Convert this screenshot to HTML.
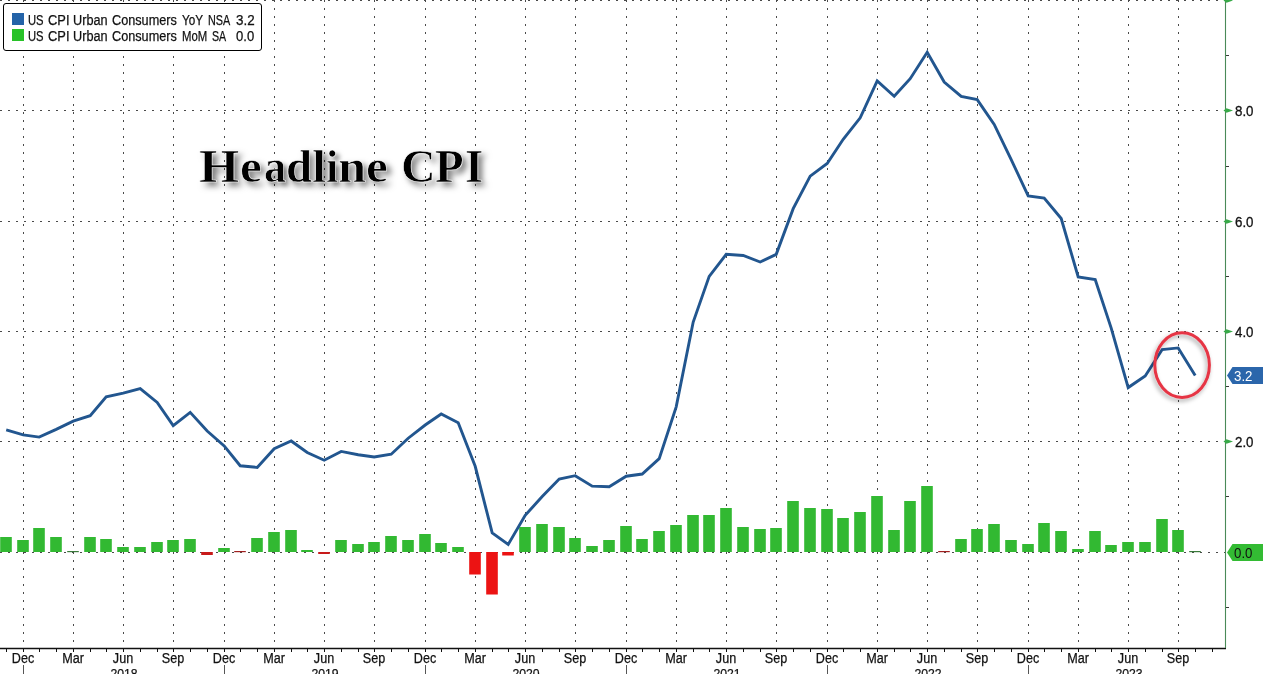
<!DOCTYPE html>
<html><head><meta charset="utf-8">
<style>
html,body{margin:0;padding:0;background:#fff;}
body{width:1263px;height:674px;overflow:hidden;position:relative;font-family:"Liberation Sans",sans-serif;}
svg{position:absolute;left:0;top:0;}
.yl{position:absolute;left:1234.5px;font-size:14px;line-height:17px;color:#111;transform:scaleX(0.95);transform-origin:0 0;-webkit-text-stroke:0.3px #111;}
.xl{position:absolute;top:650px;width:40px;text-align:center;font-size:14px;line-height:17px;color:#111;transform:scaleX(0.9);-webkit-text-stroke:0.25px #111;}
.yr{position:absolute;top:665px;width:40px;text-align:center;font-size:13px;line-height:17px;color:#111;transform:scaleX(0.94);-webkit-text-stroke:0.25px #111;}
.tg{position:absolute;left:1234.3px;font-size:14px;line-height:17px;transform:scaleX(0.95);transform-origin:0 0;}
#legend{position:absolute;left:3px;top:3px;width:257px;height:45.5px;border:1.4px solid #000;border-radius:3px;background:#fff;}
.sw{position:absolute;left:8px;width:12px;height:12px;}
.lw{position:absolute;font-size:14px;line-height:14px;color:#111;white-space:pre;transform-origin:0 0;-webkit-text-stroke:0.25px #111;}
.tt{position:absolute;top:143px;font-family:"Liberation Serif",serif;font-weight:bold;font-size:47.4px;line-height:47.4px;color:#000;text-shadow:4px 4px 6px rgba(0,0,0,0.55);-webkit-text-stroke:0.6px #fff;white-space:nowrap;transform-origin:0 0;}
</style></head><body>
<svg width="1263" height="674" viewBox="0 0 1263 674">
<defs><filter id="sh" x="-30%" y="-30%" width="160%" height="160%"><feDropShadow dx="-1.5" dy="2.5" stdDeviation="2" flood-color="#000" flood-opacity="0.35"/></filter></defs>
<line x1="0" y1="0.5" x2="1225" y2="0.5" stroke="#4a4a4a" stroke-width="1" stroke-dasharray="2 6"/>
<line x1="0" y1="110.5" x2="1225" y2="110.5" stroke="#4a4a4a" stroke-width="1" stroke-dasharray="2 6"/>
<line x1="0" y1="221.5" x2="1225" y2="221.5" stroke="#4a4a4a" stroke-width="1" stroke-dasharray="2 6"/>
<line x1="0" y1="331.5" x2="1225" y2="331.5" stroke="#4a4a4a" stroke-width="1" stroke-dasharray="2 6"/>
<line x1="0" y1="441.5" x2="1225" y2="441.5" stroke="#4a4a4a" stroke-width="1" stroke-dasharray="2 6"/>
<line x1="0" y1="552.5" x2="1225" y2="552.5" stroke="#4a4a4a" stroke-width="1" stroke-dasharray="2 6"/>
<line x1="23.5" y1="0" x2="23.5" y2="648" stroke="#4a4a4a" stroke-width="1" stroke-dasharray="2 6"/>
<line x1="73.5" y1="0" x2="73.5" y2="648" stroke="#4a4a4a" stroke-width="1" stroke-dasharray="2 6"/>
<line x1="123.5" y1="0" x2="123.5" y2="648" stroke="#4a4a4a" stroke-width="1" stroke-dasharray="2 6"/>
<line x1="173.5" y1="0" x2="173.5" y2="648" stroke="#4a4a4a" stroke-width="1" stroke-dasharray="2 6"/>
<line x1="224.5" y1="0" x2="224.5" y2="648" stroke="#4a4a4a" stroke-width="1" stroke-dasharray="2 6"/>
<line x1="274.5" y1="0" x2="274.5" y2="648" stroke="#4a4a4a" stroke-width="1" stroke-dasharray="2 6"/>
<line x1="324.5" y1="0" x2="324.5" y2="648" stroke="#4a4a4a" stroke-width="1" stroke-dasharray="2 6"/>
<line x1="374.5" y1="0" x2="374.5" y2="648" stroke="#4a4a4a" stroke-width="1" stroke-dasharray="2 6"/>
<line x1="425.5" y1="0" x2="425.5" y2="648" stroke="#4a4a4a" stroke-width="1" stroke-dasharray="2 6"/>
<line x1="475.5" y1="0" x2="475.5" y2="648" stroke="#4a4a4a" stroke-width="1" stroke-dasharray="2 6"/>
<line x1="525.5" y1="0" x2="525.5" y2="648" stroke="#4a4a4a" stroke-width="1" stroke-dasharray="2 6"/>
<line x1="575.5" y1="0" x2="575.5" y2="648" stroke="#4a4a4a" stroke-width="1" stroke-dasharray="2 6"/>
<line x1="626.5" y1="0" x2="626.5" y2="648" stroke="#4a4a4a" stroke-width="1" stroke-dasharray="2 6"/>
<line x1="676.5" y1="0" x2="676.5" y2="648" stroke="#4a4a4a" stroke-width="1" stroke-dasharray="2 6"/>
<line x1="726.5" y1="0" x2="726.5" y2="648" stroke="#4a4a4a" stroke-width="1" stroke-dasharray="2 6"/>
<line x1="776.5" y1="0" x2="776.5" y2="648" stroke="#4a4a4a" stroke-width="1" stroke-dasharray="2 6"/>
<line x1="827.5" y1="0" x2="827.5" y2="648" stroke="#4a4a4a" stroke-width="1" stroke-dasharray="2 6"/>
<line x1="877.5" y1="0" x2="877.5" y2="648" stroke="#4a4a4a" stroke-width="1" stroke-dasharray="2 6"/>
<line x1="927.5" y1="0" x2="927.5" y2="648" stroke="#4a4a4a" stroke-width="1" stroke-dasharray="2 6"/>
<line x1="977.5" y1="0" x2="977.5" y2="648" stroke="#4a4a4a" stroke-width="1" stroke-dasharray="2 6"/>
<line x1="1028.5" y1="0" x2="1028.5" y2="648" stroke="#4a4a4a" stroke-width="1" stroke-dasharray="2 6"/>
<line x1="1078.5" y1="0" x2="1078.5" y2="648" stroke="#4a4a4a" stroke-width="1" stroke-dasharray="2 6"/>
<line x1="1128.5" y1="0" x2="1128.5" y2="648" stroke="#4a4a4a" stroke-width="1" stroke-dasharray="2 6"/>
<line x1="1178.5" y1="0" x2="1178.5" y2="648" stroke="#4a4a4a" stroke-width="1" stroke-dasharray="2 6"/>
<rect x="0.20" y="537.00" width="11.6" height="15.00" fill="#32b932"/>
<rect x="17.20" y="540.00" width="11.6" height="12.00" fill="#32b932"/>
<rect x="33.20" y="528.00" width="11.6" height="24.00" fill="#32b932"/>
<rect x="50.20" y="537.00" width="11.6" height="15.00" fill="#32b932"/>
<rect x="67.20" y="551" width="11.6" height="1.2" fill="#3a7a3a"/>
<rect x="84.20" y="537.00" width="11.6" height="15.00" fill="#32b932"/>
<rect x="100.20" y="539.00" width="11.6" height="13.00" fill="#32b932"/>
<rect x="117.20" y="547.00" width="11.6" height="5.00" fill="#32b932"/>
<rect x="134.20" y="547.00" width="11.6" height="5.00" fill="#32b932"/>
<rect x="151.20" y="542.00" width="11.6" height="10.00" fill="#32b932"/>
<rect x="167.20" y="540.00" width="11.6" height="12.00" fill="#32b932"/>
<rect x="184.20" y="539.00" width="11.6" height="13.00" fill="#32b932"/>
<rect x="201.20" y="552" width="11.6" height="3.00" fill="#c81a1a"/>
<rect x="218.20" y="548.00" width="11.6" height="4.00" fill="#32b932"/>
<rect x="234.20" y="551" width="11.6" height="1.2" fill="#a02020"/>
<rect x="251.20" y="538.00" width="11.6" height="14.00" fill="#32b932"/>
<rect x="268.20" y="532.00" width="11.6" height="20.00" fill="#32b932"/>
<rect x="285.20" y="530.00" width="11.6" height="22.00" fill="#32b932"/>
<rect x="301.20" y="550.00" width="11.6" height="2.00" fill="#32b932"/>
<rect x="318.20" y="552" width="11.6" height="2.00" fill="#c81a1a"/>
<rect x="335.20" y="540.00" width="11.6" height="12.00" fill="#32b932"/>
<rect x="352.20" y="544.00" width="11.6" height="8.00" fill="#32b932"/>
<rect x="368.20" y="542.00" width="11.6" height="10.00" fill="#32b932"/>
<rect x="385.20" y="536.00" width="11.6" height="16.00" fill="#32b932"/>
<rect x="402.20" y="540.00" width="11.6" height="12.00" fill="#32b932"/>
<rect x="419.20" y="534.00" width="11.6" height="18.00" fill="#32b932"/>
<rect x="435.20" y="543.00" width="11.6" height="9.00" fill="#32b932"/>
<rect x="452.20" y="547.00" width="11.6" height="5.00" fill="#32b932"/>
<rect x="469.20" y="552" width="11.6" height="22.50" fill="#ec1313"/>
<rect x="486.20" y="552" width="11.6" height="42.50" fill="#ec1313"/>
<rect x="502.20" y="552" width="11.6" height="3.50" fill="#ec1313"/>
<rect x="519.20" y="527.00" width="11.6" height="25.00" fill="#32b932"/>
<rect x="536.20" y="524.00" width="11.6" height="28.00" fill="#32b932"/>
<rect x="553.20" y="527.00" width="11.6" height="25.00" fill="#32b932"/>
<rect x="569.20" y="538.00" width="11.6" height="14.00" fill="#32b932"/>
<rect x="586.20" y="546.00" width="11.6" height="6.00" fill="#32b932"/>
<rect x="603.20" y="540.00" width="11.6" height="12.00" fill="#32b932"/>
<rect x="620.20" y="526.00" width="11.6" height="26.00" fill="#32b932"/>
<rect x="636.20" y="539.00" width="11.6" height="13.00" fill="#32b932"/>
<rect x="653.20" y="531.00" width="11.6" height="21.00" fill="#32b932"/>
<rect x="670.20" y="525.00" width="11.6" height="27.00" fill="#32b932"/>
<rect x="687.20" y="515.00" width="11.6" height="37.00" fill="#32b932"/>
<rect x="703.20" y="515.00" width="11.6" height="37.00" fill="#32b932"/>
<rect x="720.20" y="508.00" width="11.6" height="44.00" fill="#32b932"/>
<rect x="737.20" y="527.00" width="11.6" height="25.00" fill="#32b932"/>
<rect x="754.20" y="529.00" width="11.6" height="23.00" fill="#32b932"/>
<rect x="770.20" y="528.00" width="11.6" height="24.00" fill="#32b932"/>
<rect x="787.20" y="501.00" width="11.6" height="51.00" fill="#32b932"/>
<rect x="804.20" y="508.00" width="11.6" height="44.00" fill="#32b932"/>
<rect x="821.20" y="509.00" width="11.6" height="43.00" fill="#32b932"/>
<rect x="837.20" y="518.00" width="11.6" height="34.00" fill="#32b932"/>
<rect x="854.20" y="512.00" width="11.6" height="40.00" fill="#32b932"/>
<rect x="871.20" y="496.00" width="11.6" height="56.00" fill="#32b932"/>
<rect x="888.20" y="530.00" width="11.6" height="22.00" fill="#32b932"/>
<rect x="904.20" y="501.00" width="11.6" height="51.00" fill="#32b932"/>
<rect x="921.20" y="486.00" width="11.6" height="66.00" fill="#32b932"/>
<rect x="938.20" y="551" width="11.6" height="1.2" fill="#a02020"/>
<rect x="955.20" y="539.00" width="11.6" height="13.00" fill="#32b932"/>
<rect x="971.20" y="529.00" width="11.6" height="23.00" fill="#32b932"/>
<rect x="988.20" y="524.00" width="11.6" height="28.00" fill="#32b932"/>
<rect x="1005.20" y="540.00" width="11.6" height="12.00" fill="#32b932"/>
<rect x="1022.20" y="544.00" width="11.6" height="8.00" fill="#32b932"/>
<rect x="1038.20" y="523.00" width="11.6" height="29.00" fill="#32b932"/>
<rect x="1055.20" y="531.00" width="11.6" height="21.00" fill="#32b932"/>
<rect x="1072.20" y="549.00" width="11.6" height="3.00" fill="#32b932"/>
<rect x="1089.20" y="531.00" width="11.6" height="21.00" fill="#32b932"/>
<rect x="1105.20" y="545.00" width="11.6" height="7.00" fill="#32b932"/>
<rect x="1122.20" y="542.00" width="11.6" height="10.00" fill="#32b932"/>
<rect x="1139.20" y="542.00" width="11.6" height="10.00" fill="#32b932"/>
<rect x="1156.20" y="519.00" width="11.6" height="33.00" fill="#32b932"/>
<rect x="1172.20" y="530.00" width="11.6" height="22.00" fill="#32b932"/>
<rect x="1189.20" y="551" width="11.6" height="1.2" fill="#3a7a3a"/>
<polyline points="6.20,429.97 23.20,434.92 39.20,437.13 56.20,429.42 73.20,421.16 90.20,415.65 106.20,396.93 123.20,393.08 140.20,388.67 157.20,402.44 173.20,425.56 190.20,412.35 207.20,431.07 224.20,445.94 240.20,465.76 257.20,467.41 274.20,448.69 291.20,440.98 307.20,452.54 324.20,460.25 341.20,451.44 358.20,454.75 374.20,456.95 391.20,454.19 408.20,438.23 425.20,425.01 441.20,414.00 458.20,422.81 475.20,466.31 492.20,532.93 508.20,544.49 525.20,515.31 542.20,496.59 559.20,478.97 575.20,475.67 592.20,486.13 609.20,486.68 626.20,476.22 642.20,474.02 659.20,458.60 676.20,406.84 693.20,322.05 709.20,276.35 726.20,254.33 743.20,255.43 760.20,262.04 776.20,254.33 793.20,208.63 810.20,176.14 827.20,163.48 843.20,139.25 860.20,117.78 877.20,80.89 894.20,96.30 910.20,78.69 927.20,52.26 944.20,81.99 961.20,96.30 977.20,99.61 994.20,124.38 1011.20,159.62 1028.20,195.96 1044.20,198.17 1061.20,218.54 1078.20,276.90 1095.20,279.65 1111.20,328.11 1128.20,387.57 1145.20,376.01 1162.20,349.58 1178.20,347.93 1195.20,375.46" fill="none" stroke="#22568f" stroke-width="2.9" stroke-linejoin="miter" stroke-miterlimit="3"/>
<line x1="0" y1="648.5" x2="1226" y2="648.5" stroke="#111" stroke-width="1.3"/>
<line x1="6.5" y1="648" x2="6.5" y2="652" stroke="#111" stroke-width="1"/>
<line x1="23.5" y1="648" x2="23.5" y2="652" stroke="#111" stroke-width="1"/>
<line x1="39.5" y1="648" x2="39.5" y2="652" stroke="#111" stroke-width="1"/>
<line x1="56.5" y1="648" x2="56.5" y2="652" stroke="#111" stroke-width="1"/>
<line x1="73.5" y1="648" x2="73.5" y2="652" stroke="#111" stroke-width="1"/>
<line x1="90.5" y1="648" x2="90.5" y2="652" stroke="#111" stroke-width="1"/>
<line x1="106.5" y1="648" x2="106.5" y2="652" stroke="#111" stroke-width="1"/>
<line x1="123.5" y1="648" x2="123.5" y2="652" stroke="#111" stroke-width="1"/>
<line x1="140.5" y1="648" x2="140.5" y2="652" stroke="#111" stroke-width="1"/>
<line x1="157.5" y1="648" x2="157.5" y2="652" stroke="#111" stroke-width="1"/>
<line x1="173.5" y1="648" x2="173.5" y2="652" stroke="#111" stroke-width="1"/>
<line x1="190.5" y1="648" x2="190.5" y2="652" stroke="#111" stroke-width="1"/>
<line x1="207.5" y1="648" x2="207.5" y2="652" stroke="#111" stroke-width="1"/>
<line x1="224.5" y1="648" x2="224.5" y2="652" stroke="#111" stroke-width="1"/>
<line x1="240.5" y1="648" x2="240.5" y2="652" stroke="#111" stroke-width="1"/>
<line x1="257.5" y1="648" x2="257.5" y2="652" stroke="#111" stroke-width="1"/>
<line x1="274.5" y1="648" x2="274.5" y2="652" stroke="#111" stroke-width="1"/>
<line x1="291.5" y1="648" x2="291.5" y2="652" stroke="#111" stroke-width="1"/>
<line x1="307.5" y1="648" x2="307.5" y2="652" stroke="#111" stroke-width="1"/>
<line x1="324.5" y1="648" x2="324.5" y2="652" stroke="#111" stroke-width="1"/>
<line x1="341.5" y1="648" x2="341.5" y2="652" stroke="#111" stroke-width="1"/>
<line x1="358.5" y1="648" x2="358.5" y2="652" stroke="#111" stroke-width="1"/>
<line x1="374.5" y1="648" x2="374.5" y2="652" stroke="#111" stroke-width="1"/>
<line x1="391.5" y1="648" x2="391.5" y2="652" stroke="#111" stroke-width="1"/>
<line x1="408.5" y1="648" x2="408.5" y2="652" stroke="#111" stroke-width="1"/>
<line x1="425.5" y1="648" x2="425.5" y2="652" stroke="#111" stroke-width="1"/>
<line x1="441.5" y1="648" x2="441.5" y2="652" stroke="#111" stroke-width="1"/>
<line x1="458.5" y1="648" x2="458.5" y2="652" stroke="#111" stroke-width="1"/>
<line x1="475.5" y1="648" x2="475.5" y2="652" stroke="#111" stroke-width="1"/>
<line x1="492.5" y1="648" x2="492.5" y2="652" stroke="#111" stroke-width="1"/>
<line x1="508.5" y1="648" x2="508.5" y2="652" stroke="#111" stroke-width="1"/>
<line x1="525.5" y1="648" x2="525.5" y2="652" stroke="#111" stroke-width="1"/>
<line x1="542.5" y1="648" x2="542.5" y2="652" stroke="#111" stroke-width="1"/>
<line x1="559.5" y1="648" x2="559.5" y2="652" stroke="#111" stroke-width="1"/>
<line x1="575.5" y1="648" x2="575.5" y2="652" stroke="#111" stroke-width="1"/>
<line x1="592.5" y1="648" x2="592.5" y2="652" stroke="#111" stroke-width="1"/>
<line x1="609.5" y1="648" x2="609.5" y2="652" stroke="#111" stroke-width="1"/>
<line x1="626.5" y1="648" x2="626.5" y2="652" stroke="#111" stroke-width="1"/>
<line x1="642.5" y1="648" x2="642.5" y2="652" stroke="#111" stroke-width="1"/>
<line x1="659.5" y1="648" x2="659.5" y2="652" stroke="#111" stroke-width="1"/>
<line x1="676.5" y1="648" x2="676.5" y2="652" stroke="#111" stroke-width="1"/>
<line x1="693.5" y1="648" x2="693.5" y2="652" stroke="#111" stroke-width="1"/>
<line x1="709.5" y1="648" x2="709.5" y2="652" stroke="#111" stroke-width="1"/>
<line x1="726.5" y1="648" x2="726.5" y2="652" stroke="#111" stroke-width="1"/>
<line x1="743.5" y1="648" x2="743.5" y2="652" stroke="#111" stroke-width="1"/>
<line x1="760.5" y1="648" x2="760.5" y2="652" stroke="#111" stroke-width="1"/>
<line x1="776.5" y1="648" x2="776.5" y2="652" stroke="#111" stroke-width="1"/>
<line x1="793.5" y1="648" x2="793.5" y2="652" stroke="#111" stroke-width="1"/>
<line x1="810.5" y1="648" x2="810.5" y2="652" stroke="#111" stroke-width="1"/>
<line x1="827.5" y1="648" x2="827.5" y2="652" stroke="#111" stroke-width="1"/>
<line x1="843.5" y1="648" x2="843.5" y2="652" stroke="#111" stroke-width="1"/>
<line x1="860.5" y1="648" x2="860.5" y2="652" stroke="#111" stroke-width="1"/>
<line x1="877.5" y1="648" x2="877.5" y2="652" stroke="#111" stroke-width="1"/>
<line x1="894.5" y1="648" x2="894.5" y2="652" stroke="#111" stroke-width="1"/>
<line x1="910.5" y1="648" x2="910.5" y2="652" stroke="#111" stroke-width="1"/>
<line x1="927.5" y1="648" x2="927.5" y2="652" stroke="#111" stroke-width="1"/>
<line x1="944.5" y1="648" x2="944.5" y2="652" stroke="#111" stroke-width="1"/>
<line x1="961.5" y1="648" x2="961.5" y2="652" stroke="#111" stroke-width="1"/>
<line x1="977.5" y1="648" x2="977.5" y2="652" stroke="#111" stroke-width="1"/>
<line x1="994.5" y1="648" x2="994.5" y2="652" stroke="#111" stroke-width="1"/>
<line x1="1011.5" y1="648" x2="1011.5" y2="652" stroke="#111" stroke-width="1"/>
<line x1="1028.5" y1="648" x2="1028.5" y2="652" stroke="#111" stroke-width="1"/>
<line x1="1044.5" y1="648" x2="1044.5" y2="652" stroke="#111" stroke-width="1"/>
<line x1="1061.5" y1="648" x2="1061.5" y2="652" stroke="#111" stroke-width="1"/>
<line x1="1078.5" y1="648" x2="1078.5" y2="652" stroke="#111" stroke-width="1"/>
<line x1="1095.5" y1="648" x2="1095.5" y2="652" stroke="#111" stroke-width="1"/>
<line x1="1111.5" y1="648" x2="1111.5" y2="652" stroke="#111" stroke-width="1"/>
<line x1="1128.5" y1="648" x2="1128.5" y2="652" stroke="#111" stroke-width="1"/>
<line x1="1145.5" y1="648" x2="1145.5" y2="652" stroke="#111" stroke-width="1"/>
<line x1="1162.5" y1="648" x2="1162.5" y2="652" stroke="#111" stroke-width="1"/>
<line x1="1178.5" y1="648" x2="1178.5" y2="652" stroke="#111" stroke-width="1"/>
<line x1="1195.5" y1="648" x2="1195.5" y2="652" stroke="#111" stroke-width="1"/>
<line x1="1212.5" y1="648" x2="1212.5" y2="652" stroke="#111" stroke-width="1"/>
<line x1="23.5" y1="665" x2="23.5" y2="674" stroke="#555" stroke-width="1"/>
<line x1="224.5" y1="665" x2="224.5" y2="674" stroke="#555" stroke-width="1"/>
<line x1="425.5" y1="665" x2="425.5" y2="674" stroke="#555" stroke-width="1"/>
<line x1="626.5" y1="665" x2="626.5" y2="674" stroke="#555" stroke-width="1"/>
<line x1="827.5" y1="665" x2="827.5" y2="674" stroke="#555" stroke-width="1"/>
<line x1="1028.5" y1="665" x2="1028.5" y2="674" stroke="#555" stroke-width="1"/>
<line x1="1225.5" y1="0" x2="1225.5" y2="648" stroke="#4a8a58" stroke-width="1.1"/>
<line x1="1226" y1="55.5" x2="1229" y2="55.5" stroke="#3a3a3a" stroke-width="1"/>
<line x1="1226" y1="166.5" x2="1229" y2="166.5" stroke="#3a3a3a" stroke-width="1"/>
<line x1="1226" y1="276.5" x2="1229" y2="276.5" stroke="#3a3a3a" stroke-width="1"/>
<line x1="1226" y1="386.5" x2="1229" y2="386.5" stroke="#3a3a3a" stroke-width="1"/>
<line x1="1226" y1="496.5" x2="1229" y2="496.5" stroke="#3a3a3a" stroke-width="1"/>
<line x1="1226" y1="607.5" x2="1229" y2="607.5" stroke="#3a3a3a" stroke-width="1"/>
<polygon points="1223.5,0.5 1226.5,-1.8 1233,0.5 1226.5,2.8" fill="#38aa48"/>
<polygon points="1223.5,110.5 1226.5,108.2 1233,110.5 1226.5,112.8" fill="#38aa48"/>
<polygon points="1223.5,221.5 1226.5,219.2 1233,221.5 1226.5,223.8" fill="#38aa48"/>
<polygon points="1223.5,331.5 1226.5,329.2 1233,331.5 1226.5,333.8" fill="#38aa48"/>
<polygon points="1223.5,441.5 1226.5,439.2 1233,441.5 1226.5,443.8" fill="#38aa48"/>
<polygon points="1227,375.5 1232.5,367.0 1263,367.0 1263,384.0 1232.5,384.0" fill="#2b66ab"/>
<polygon points="1227,552.5 1232.5,544.0 1263,544.0 1263,561.0 1232.5,561.0" fill="#33bb33"/>
<ellipse cx="1182.1" cy="365.1" rx="27.3" ry="32.3" fill="none" stroke="#e63644" stroke-width="3.0" filter="url(#sh)"/>
</svg>
<div class="yl" style="top:103.1px">8.0</div>
<div class="yl" style="top:213.5px">6.0</div>
<div class="yl" style="top:323.9px">4.0</div>
<div class="yl" style="top:434.3px">2.0</div>
<div class="xl" style="left:2.5px">Dec</div>
<div class="xl" style="left:52.5px">Mar</div>
<div class="xl" style="left:102.5px">Jun</div>
<div class="xl" style="left:152.5px">Sep</div>
<div class="xl" style="left:203.5px">Dec</div>
<div class="xl" style="left:253.5px">Mar</div>
<div class="xl" style="left:303.5px">Jun</div>
<div class="xl" style="left:353.5px">Sep</div>
<div class="xl" style="left:404.5px">Dec</div>
<div class="xl" style="left:454.5px">Mar</div>
<div class="xl" style="left:504.5px">Jun</div>
<div class="xl" style="left:554.5px">Sep</div>
<div class="xl" style="left:605.5px">Dec</div>
<div class="xl" style="left:655.5px">Mar</div>
<div class="xl" style="left:705.5px">Jun</div>
<div class="xl" style="left:755.5px">Sep</div>
<div class="xl" style="left:806.5px">Dec</div>
<div class="xl" style="left:856.5px">Mar</div>
<div class="xl" style="left:906.5px">Jun</div>
<div class="xl" style="left:956.5px">Sep</div>
<div class="xl" style="left:1007.5px">Dec</div>
<div class="xl" style="left:1057.5px">Mar</div>
<div class="xl" style="left:1107.5px">Jun</div>
<div class="xl" style="left:1157.5px">Sep</div>
<div class="yr" style="left:103.5px">2018</div>
<div class="yr" style="left:304.5px">2019</div>
<div class="yr" style="left:505.5px">2020</div>
<div class="yr" style="left:706.5px">2021</div>
<div class="yr" style="left:907.5px">2022</div>
<div class="yr" style="left:1108.5px">2023</div>
<div class="tg" style="top:368px;color:#fff">3.2</div>
<div class="tg" style="top:545px;color:#111">0.0</div>
<div id="legend"></div>
<div class="sw" style="left:12px;top:13px;background:#2463a8"></div>
<div class="sw" style="left:12px;top:29px;background:#28c228"></div>
<span class="lw" style="left:27.89px;top:13.02px;transform:scaleX(0.802)">US</span>
<span class="lw" style="left:47.58px;top:13.02px;transform:scaleX(0.920)">CPI</span>
<span class="lw" style="left:72.72px;top:13.02px;transform:scaleX(0.906)">Urban</span>
<span class="lw" style="left:111.79px;top:13.02px;transform:scaleX(0.906)">Consumers</span>
<span class="lw" style="left:182.16px;top:13.02px;transform:scaleX(0.837)">YoY</span>
<span class="lw" style="left:207.87px;top:13.02px;transform:scaleX(0.772)">NSA</span>
<span class="lw" style="left:235.68px;top:13.02px;transform:scaleX(0.957)">3.2</span>
<span class="lw" style="left:27.89px;top:29.02px;transform:scaleX(0.802)">US</span>
<span class="lw" style="left:47.58px;top:29.02px;transform:scaleX(0.920)">CPI</span>
<span class="lw" style="left:72.72px;top:29.02px;transform:scaleX(0.906)">Urban</span>
<span class="lw" style="left:111.79px;top:29.02px;transform:scaleX(0.906)">Consumers</span>
<span class="lw" style="left:181.63px;top:29.02px;transform:scaleX(0.812)">MoM</span>
<span class="lw" style="left:211.89px;top:29.02px;transform:scaleX(0.760)">SA</span>
<span class="lw" style="left:235.90px;top:29.02px;transform:scaleX(0.933)">0.0</span>
<span class="tt" style="left:198.93px;transform:scaleX(1.090)">H</span><span class="tt" style="left:240.21px;transform:scaleX(1.041)">e</span><span class="tt" style="left:263.69px;transform:scaleX(0.940)">a</span><span class="tt" style="left:285.74px;transform:scaleX(0.992)">d</span><span class="tt" style="left:312.26px;transform:scaleX(1.078)">l</span><span class="tt" style="left:326.47px;transform:scaleX(0.930)">i</span><span class="tt" style="left:338.17px;transform:scaleX(1.067)">n</span><span class="tt" style="left:366.31px;transform:scaleX(1.041)">e</span><span class="tt" style="left:400.92px;transform:scaleX(1.015)">C</span><span class="tt" style="left:435.06px;transform:scaleX(0.990)">P</span><span class="tt" style="left:464.58px;transform:scaleX(0.997)">I</span>
</body></html>
